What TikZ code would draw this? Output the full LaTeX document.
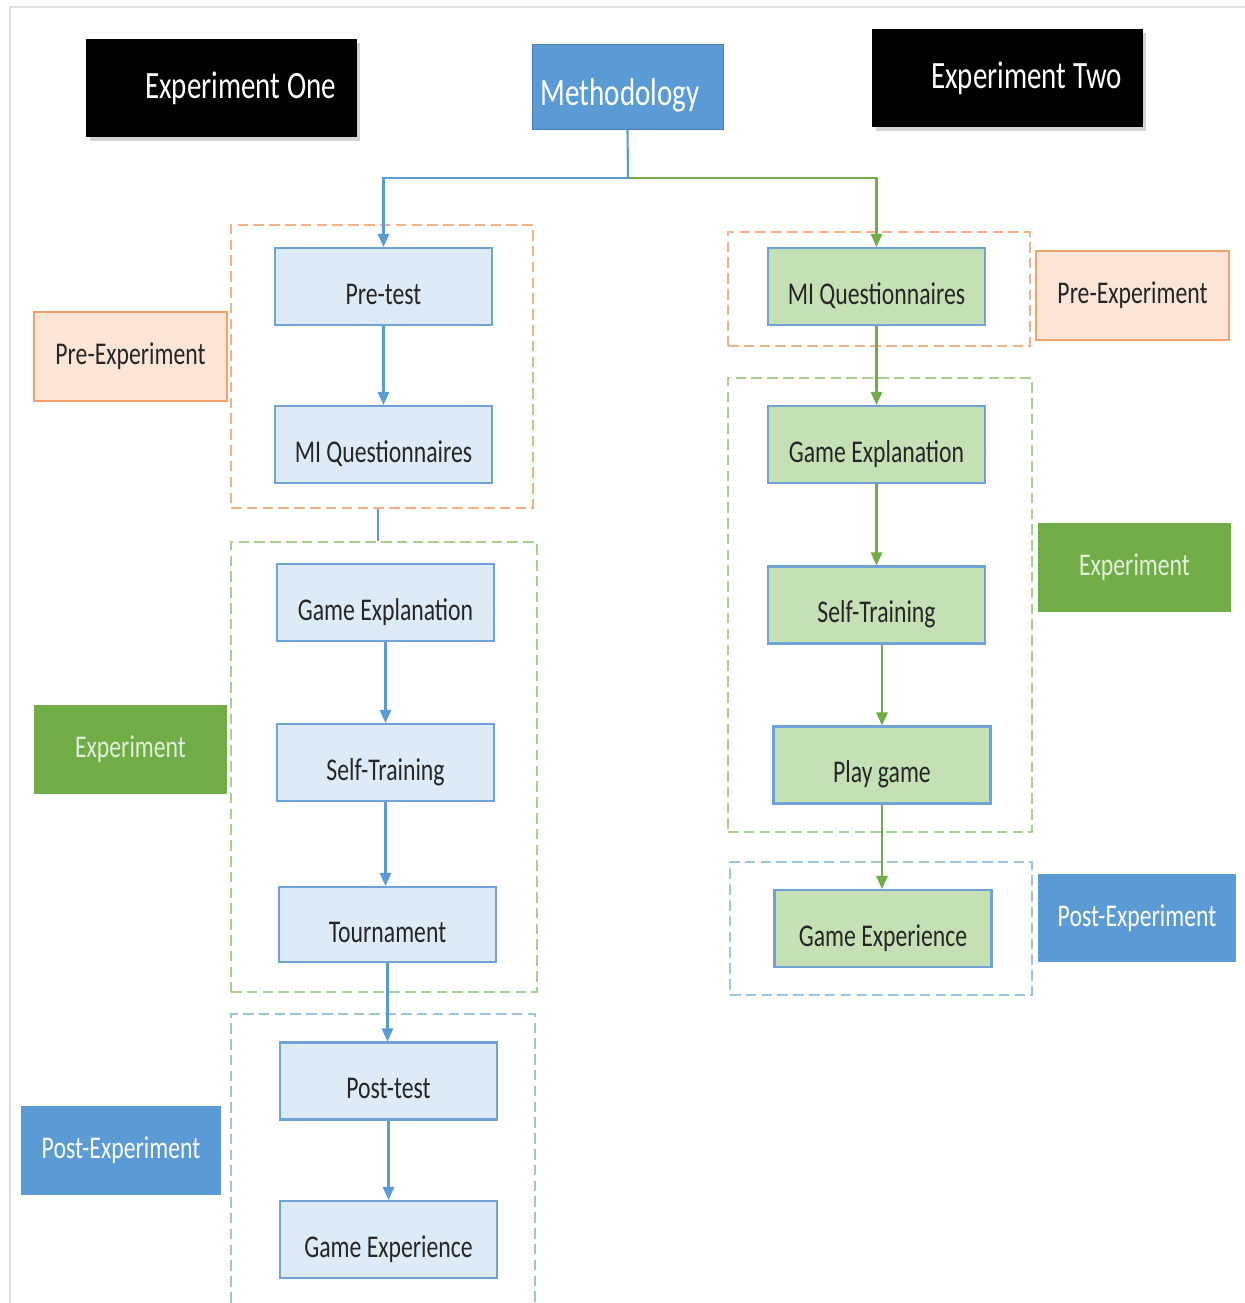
\documentclass[tikz,border=0pt]{standalone}
\usepackage{fontspec}
\setmainfont{Carlito}[FakeStretch=0.75]
\usetikzlibrary{arrows.meta,positioning,calc,shadows}
\definecolor{lineblue}{HTML}{5B9BD5}
\definecolor{linegreen}{HTML}{70AD47}
\definecolor{boxblue}{HTML}{DDEBF7}
\definecolor{boxgreen}{HTML}{C5E0B4}
\definecolor{boxedge}{HTML}{6FA3D8}
\definecolor{textdark}{HTML}{262626}
\definecolor{dashorange}{HTML}{F4B183}
\definecolor{dashgreen}{HTML}{A9D18E}
\definecolor{dashblue}{HTML}{9DC3E6}
\definecolor{peach}{HTML}{FBE5D6}
\definecolor{peachedge}{HTML}{F4A06A}
\definecolor{palegreen}{HTML}{E2F0D9}

\begin{document}
\begin{tikzpicture}[x=0.02cm,y=-0.02cm,
  stepbox/.style={draw=boxedge,line width=1.2pt,minimum width=4.34cm,minimum height=1.54cm,inner sep=0pt,text height=20pt,text depth=0pt,font=\fontsize{18}{20}\selectfont,text=textdark},
  bluestep/.style={stepbox,fill=boxblue},
  greenstep/.style={stepbox,fill=boxgreen},
  phasebox/.style={minimum width=3.86cm,minimum height=1.78cm,inner sep=0pt,font=\fontsize{18}{20}\selectfont},
  groupbox/.style={line width=1.2pt,dash pattern=on 6pt off 3pt,inner sep=0pt},
  flow/.style={line width=1.2pt,-{Triangle[width=6.5pt,length=7.5pt]}},
  head/.style={fill=black,text=white,minimum width=5.42cm,minimum height=1.96cm,inner sep=0pt,font=\fontsize{22}{24}\selectfont,drop shadow={opacity=0.35,shadow xshift=2pt,shadow yshift=-2pt}}]
  \useasboundingbox (0,0) rectangle (1245,1303); % 画像全体の大きさ
  \draw[gray!25,line width=0.8pt] (10,7) rectangle (1262,1330); % 外枠（上と左だけ見える）

  % 見出し
  \node[head] (one) at (221.5,88) {\hspace*{0.76cm}Experiment One}; % 実験1の見出し（文字はやや右寄り）
  \node[fill=lineblue,draw=lineblue!80!black,text=white,minimum width=3.82cm,minimum height=1.7cm,inner sep=0pt,text height=22pt,text depth=0pt,font=\fontsize{22}{24}\selectfont] (meth) at (627.5,86.5) {Methodology\hspace*{0.3cm}}; % 中央の見出し
  \node[head] (two) at (1007.5,78) {\hspace*{0.76cm}Experiment Two}; % 実験2の見出し

  % 破線のグループ枠
  \node[groupbox,draw=dashorange,minimum width=6.04cm,minimum height=5.66cm] (pre1) at (382,366.5) {};
  \node[groupbox,draw=dashgreen,minimum width=6.12cm,minimum height=9.0cm] (exp1) at (384,767) {};
  \node[groupbox,draw=dashblue,minimum width=6.08cm,minimum height=6.32cm] (post1) at (383,1172) {};
  \node[groupbox,draw=dashorange,minimum width=6.04cm,minimum height=2.28cm] (pre2) at (879,289) {};
  \node[groupbox,draw=dashgreen,minimum width=6.08cm,minimum height=9.08cm] (exp2) at (880,605) {};
  \node[groupbox,draw=dashblue,minimum width=6.04cm,minimum height=2.66cm] (post2) at (881,928.5) {};

  % 実験1の手順
  \node[bluestep] (pretest) at (383.5,286.5) {Pre-test};
  \node[bluestep] (miq1) at (383.5,444.5) {MI Questionnaires};
  \node[bluestep] (ge1) at (385.5,602.5) {Game Explanation};
  \node[bluestep] (st1) at (385.5,762.5) {Self-Training};
  \node[bluestep,minimum height=1.5cm] (tour1) at (387.5,924.5) {Tournament};
  \node[bluestep] (pt1) at (388.5,1081) {Post-test};
  \node[bluestep] (gx1) at (388.5,1239.5) {Game Experience};

  % 実験2の手順
  \node[greenstep] (miq2) at (876.5,286.5) {MI Questionnaires};
  \node[greenstep] (ge2) at (876.5,444.5) {Game Explanation};
  \node[greenstep] (st2) at (876.5,605) {Self-Training};
  \node[greenstep] (pg2) at (882,765) {Play game};
  \node[greenstep] (gx2) at (883,928.5) {Game Experience};

  % 段階のラベル
  \node[phasebox,fill=peach,draw=peachedge,line width=1.2pt,text=textdark] (prelab1) at (130.5,356.5) {Pre-Experiment};
  \node[phasebox,fill=linegreen,text=palegreen] (explab1) at (130.5,749) {Experiment};
  \node[phasebox,fill=lineblue,text=white,minimum width=4cm] (postlab1) at (121,1150.5) {Post-Experiment};
  \node[phasebox,fill=peach,draw=peachedge,line width=1.2pt,text=textdark] (prelab2) at (1132.5,295.5) {Pre-Experiment};
  \node[phasebox,fill=linegreen,text=palegreen] (explab2) at (1134.5,567.5) {Experiment};
  \node[phasebox,fill=lineblue,text=white,minimum width=3.96cm,minimum height=1.76cm] (postlab2) at (1137,918) {Post-Experiment};

  % 分岐
  \coordinate (split) at (628,178); % 二つの実験へ分かれる点
  \draw[lineblue,line width=1.2pt] (meth.south) -- (split);
  \draw[flow,lineblue] (split) -| (pretest.north);
  \draw[flow,linegreen] (split) -| (miq2.north);

  % 実験1の流れ
  \draw[flow,lineblue] (pretest) -- (miq1);
  \draw[lineblue,line width=1.2pt] (pre1.south -| 378,0) -- (exp1.north -| 378,0); % 枠と枠の間のつなぎ
  \draw[flow,lineblue] (ge1) -- (st1);
  \draw[flow,lineblue] (st1) -- (st1 |- tour1.north);
  \draw[flow,lineblue] (tour1) -- (tour1 |- pt1.north);
  \draw[flow,lineblue] (pt1) -- (gx1);

  % 実験2の流れ
  \draw[flow,linegreen] (miq2) -- (ge2);
  \draw[flow,linegreen] (ge2) -- (st2);
  \draw[flow,linegreen] (st2.south -| pg2.north) -- (pg2.north);
  \draw[flow,linegreen] (pg2) -- (pg2 |- gx2.north);
\end{tikzpicture}
\end{document}
